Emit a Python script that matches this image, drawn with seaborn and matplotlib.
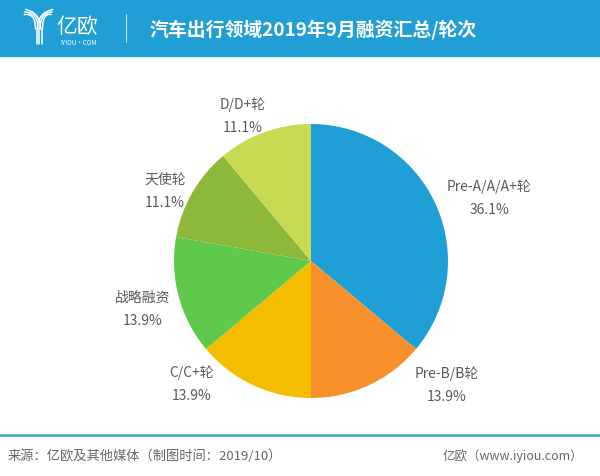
import matplotlib
matplotlib.use("Agg")
import matplotlib.pyplot as plt
import seaborn as sns
import numpy as np
from matplotlib.patches import Rectangle

sns.set_theme(style="white")
plt.rcParams['font.family'] = ['Noto Sans CJK SC', 'DejaVu Sans']

categories = ["Pre-A/A/A+轮", "Pre-B/B轮", "C/C+轮", "战略融资", "天使轮", "D/D+轮"]
shares = [36.1, 13.9, 13.9, 13.9, 11.1, 11.1]
colors = ["#1f9fd5", "#f7902a", "#f5bd00", "#5ec94a", "#8db93a", "#c7da52"]
title = "汽车出行领域2019年9月融资汇总/轮次"
source = "来源：亿欧及其他媒体（制图时间：2019/10）"
credit = "亿欧（www.iyiou.com）"

W, H = 600, 477
fig = plt.figure(figsize=(6, 4.77), dpi=100)
ax = fig.add_axes([0, 0, 1, 1])

cx, cy, R = 311, H - 262, 137
wedges, _ = ax.pie(shares, colors=colors, startangle=90, counterclock=False,
                   center=(cx, cy), radius=R, frame=True,
                   wedgeprops=dict(linewidth=0))
ax.set_xlim(0, W)
ax.set_ylim(0, H)
ax.set_aspect('equal')
ax.axis('off')

# label anchor positions (pixel coords from top-left)
label_pos = [(489, 187), (447, 374), (192, 373), (143, 298), (165, 180), (243, 105)]
for cat, s, (lx, ly) in zip(categories, shares, label_pos):
    ax.text(lx, H - ly, cat, ha='center', va='center', fontsize=10, color='#595959')
    ax.text(lx, H - ly - 23, f"{s:.1f}%", ha='center', va='center', fontsize=10, color='#595959')

# header
ax.add_patch(Rectangle((0, H - 57), W, 57, color='#1f9fd5', zorder=5, clip_on=False))
ax.text(150, H - 30, title, ha='left', va='center', fontsize=13.6, color='white',
        fontweight='bold', zorder=6)
ax.text(56, H - 27, "亿欧", ha='left', va='center', fontsize=15, color='white', zorder=6)
ax.text(60, H - 43, "IYIOU·COM", ha='left', va='center', fontsize=4.5, color='white', zorder=6)
# stylised logo mark
t = np.linspace(0, 1, 30)
for off in (-2.5, 0, 2.5):
    p0, p1, p2 = np.array([25 + off * 0.3, 13 - off]), np.array([38 + off, 14]), np.array([38 + off, 30])
    pts = ((1 - t) ** 2)[:, None] * p0 + (2 * (1 - t) * t)[:, None] * p1 + (t ** 2)[:, None] * p2
    ax.plot(pts[:, 0], H - pts[:, 1], color='white', lw=1.1, zorder=6)
    q0, q1, q2 = np.array([52 - off * 0.3, 13 + off]), np.array([40 + off, 14]), np.array([40 + off, 30])
    pts = ((1 - t) ** 2)[:, None] * q0 + (2 * (1 - t) * t)[:, None] * q1 + (t ** 2)[:, None] * q2
    ax.plot(pts[:, 0], H - pts[:, 1], color='white', lw=1.1, zorder=6)
    ax.plot([39 + off, 39 + off], [H - 30, H - 45], color='white', lw=1.1, zorder=6)
ax.plot([126, 126], [H - 15, H - 43], color='white', lw=0.8, alpha=0.7, zorder=6)

# footer
ax.plot([0, W], [H - 436, H - 436], color='#3fa3b8', lw=1.8)
ax.text(8, H - 456, source, ha='left', va='center', fontsize=9.5, color='#666666')
ax.text(583, H - 456, credit, ha='right', va='center', fontsize=9, color='#666666')

fig.savefig("out.png", dpi=100)
